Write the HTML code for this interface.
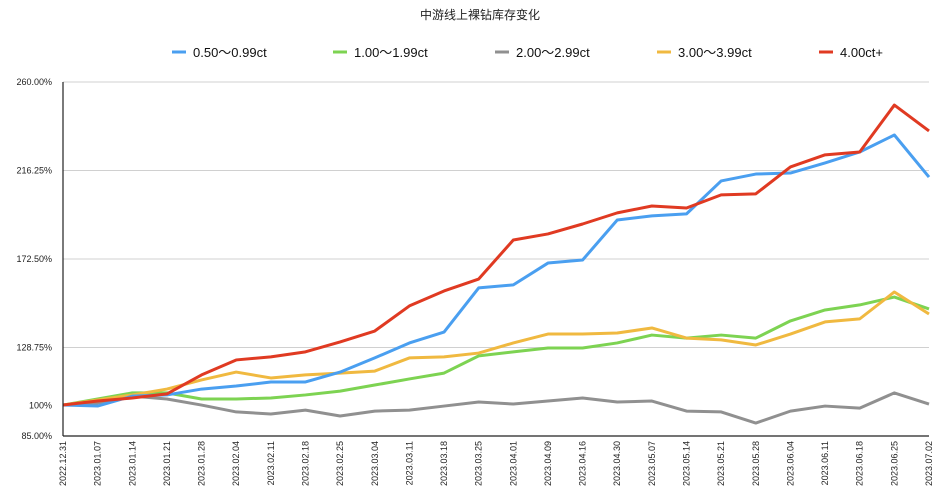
<!DOCTYPE html>
<html><head><meta charset="utf-8"><style>
body{margin:0;background:#fff;}
svg{display:block;font-family:"Liberation Sans","Noto Sans CJK SC",sans-serif;}
</style></head><body>
<svg id="chart" width="934" height="497">
<text x="480" y="19" text-anchor="middle" font-size="12" fill="#222">中游线上裸钻库存变化</text>
<g id="legend"></g>
<g id="grid"></g><g id="series"></g><g id="axes"></g>
</svg>
<script>
const categories=["2022.12.31","2023.01.07","2023.01.14","2023.01.21","2023.01.28","2023.02.04","2023.02.11","2023.02.18","2023.02.25","2023.03.04","2023.03.11","2023.03.18","2023.03.25","2023.04.01","2023.04.09","2023.04.16","2023.04.30","2023.05.07","2023.05.14","2023.05.21","2023.05.28","2023.06.04","2023.06.11","2023.06.18","2023.06.25","2023.07.02"];
const seriesNames=["0.50～0.99ct","1.00～1.99ct","2.00～2.99ct","3.00～3.99ct","4.00ct+"];
const blueValues=[100.3,99.8,104.7,105.3,108.2,109.7,111.7,111.7,116.6,123.6,131,136.4,158.2,159.7,170.5,172,191.8,193.8,194.8,211.1,214.5,215,220,225.4,233.8,213];
const greenValues=[100.3,103.3,106.3,106.3,103.3,103.3,103.8,105.3,107.2,110.2,113.2,116.1,124.6,126.6,128.5,128.5,131,134.9,133.4,134.9,133.4,141.9,147.3,149.8,153.7,147.8];
const grayValues=[100.3,101.3,104.7,103.3,100.3,96.9,95.9,97.8,94.9,97.3,97.8,99.8,101.8,100.8,102.3,103.8,101.8,102.3,97.3,96.9,91.4,97.3,99.8,98.8,106.3,100.8];
const yellowValues=[100.3,102.8,105.3,108.2,112.7,116.6,113.7,115.2,116.1,117.1,123.6,124.1,126,131,135.4,135.4,135.9,138.4,133.4,132.5,130,135.4,141.4,142.9,156.2,145.3];
const redValues=[100.3,102.3,103.8,105.8,115.2,122.6,124.1,126.6,131.5,136.9,149.3,156.7,162.6,181.9,184.9,189.8,195.3,198.7,197.7,204.2,204.7,218,224,225.4,248.6,235.8];
const yTicks=[85,128.75,172.5,216.25,260];
const yTickLabels=["85.00%","128.75%","172.50%","216.25%","260.00%"];
const extraTick=100, extraTickLabel="100%";

const NS="http://www.w3.org/2000/svg";
const L=63,R=929,T=82,B=436,yMin=85,yMax=260;
const xs=i=>L+i*(R-L)/(categories.length-1);
const ys=v=>B-(v-yMin)/(yMax-yMin)*(B-T);
function mk(tag,attrs,parent){const e=document.createElementNS(NS,tag);for(const k in attrs)e.setAttribute(k,attrs[k]);parent.appendChild(e);return e;}
const grid=document.getElementById('grid'),axes=document.getElementById('axes'),ser=document.getElementById('series'),leg=document.getElementById('legend');
yTicks.forEach((v,i)=>{
  if(i>0){const g=mk('line',{x1:L,x2:R,y1:ys(v),y2:ys(v),stroke:'#d0d0d0','stroke-width':1},grid);
  
  }
  const t=mk('text',{x:52,y:ys(v)+3,'text-anchor':'end','font-size':9,fill:'#222'},axes);t.textContent=yTickLabels[i];
  
  
});
const et=mk('text',{x:52,y:ys(extraTick)+3,'text-anchor':'end','font-size':9,fill:'#222'},axes);et.textContent=extraTickLabel;


const ya=mk('line',{x1:L,x2:L,y1:T,y2:B,stroke:'#222','stroke-width':1.2},axes);


const xa=mk('line',{x1:L,x2:R,y1:B,y2:B,stroke:'#222','stroke-width':1.2},axes);


categories.forEach((c,i)=>{
  const x=xs(i)+3;
  const t=mk('text',{x:x,y:441,'text-anchor':'end','font-size':9,fill:'#222',transform:`rotate(-90 ${x} 441)`},axes);t.textContent=c;
  
  
});
const colors=["#4a9ff0","#7dd352","#909090","#f0b940","#e03a22"];
const data=[blueValues,greenValues,grayValues,yellowValues,redValues];
const order=[2,1,3,0,4];
order.forEach(k=>{
  const p=mk('polyline',{points:data[k].map((v,i)=>xs(i)+','+ys(v)).join(' '),fill:'none',stroke:colors[k],'stroke-width':3,'stroke-linejoin':'round'},ser);
  
  
});
const legX=[172,333,495,657,819];
seriesNames.forEach((n,k)=>{
  const l=mk('line',{x1:legX[k],x2:legX[k]+14,y1:52,y2:52,stroke:colors[k],'stroke-width':3},leg);
  
  
  const t=mk('text',{x:legX[k]+21,y:57,'font-size':13,fill:'#111'},leg);t.textContent=n;
  
  
});
</script>
</body></html>
